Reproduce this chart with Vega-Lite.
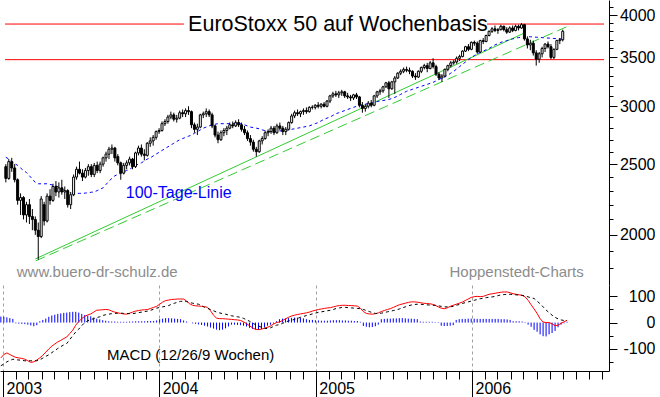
{
"$schema": "https://vega.github.io/schema/vega-lite/v6.json",
"background": "white",
"padding": 0,
"spacing": 0,
"bounds": "flush",
"config": {"view": {"stroke": null}, "axis": {"labelFont": "Liberation Sans", "domainWidth": 1, "tickWidth": 1, "domainColor": "black", "tickColor": "black"}, "text": {"font": "Liberation Sans"}},
"datasets": {
"red": [{"a":"2002-12-25","b":"2004-02-23","p":3888},{"a":"2006-02-12","b":"2006-11-17","p":3888},{"a":"2002-12-25","b":"2006-11-17","p":3475}],
"trendA": [{"d":"2003-03-07","p":1854},{"d":"2006-05-12","p":3780}],
"trendB": [{"d":"2003-03-08","p":1843},{"d":"2006-08-30","p":3876}],
"ttl": [{"d":"2004-03-04","p":3876,"t":"EuroStoxx 50 auf Wochenbasis"}],
"malab": [{"d":"2003-10-08","p":2283,"t":"100-Tage-Linie"}],
"credits": [{"d":"2003-01-22","p":1777,"t":"www.buero-dr-schulz.de"},{"d":"2005-11-15","p":1777,"t":"Hoppenstedt-Charts"}],
"mlab": [{"d":"2003-09-01","v":-125,"t":"MACD (12/26/9 Wochen)"}],
"w": [
{"d":"2002-12-27","o":2480,"h":2500,"l":2360,"c":2390,"ma":2555,"m":-135,"s":-165,"hb":23},
{"d":"2003-01-03","o":2390,"h":2540,"l":2380,"c":2520,"ma":2540,"m":-122,"s":-158,"hb":22},
{"d":"2003-01-10","o":2520,"h":2550,"l":2440,"c":2470,"ma":2520,"m":-116,"s":-150,"hb":20},
{"d":"2003-01-17","o":2470,"h":2500,"l":2360,"c":2380,"ma":2505,"m":-122,"s":-145,"hb":17},
{"d":"2003-01-24","o":2380,"h":2390,"l":2200,"c":2230,"ma":2490,"m":-128,"s":-140,"hb":14},
{"d":"2003-01-31","o":2230,"h":2280,"l":2130,"c":2250,"ma":2470,"m":-133,"s":-142,"hb":-3},
{"d":"2003-02-07","o":2250,"h":2260,"l":2100,"c":2130,"ma":2450,"m":-135,"s":-143,"hb":-4},
{"d":"2003-02-14","o":2130,"h":2220,"l":2080,"c":2200,"ma":2435,"m":-137,"s":-144,"hb":-5},
{"d":"2003-02-21","o":2200,"h":2240,"l":2070,"c":2120,"ma":2410,"m":-140,"s":-146,"hb":-6},
{"d":"2003-02-28","o":2120,"h":2170,"l":2030,"c":2100,"ma":2385,"m":-146,"s":-146,"hb":-8},
{"d":"2003-03-07","o":2100,"h":2120,"l":2000,"c":2030,"ma":2360,"m":-152,"s":-146,"hb":-11},
{"d":"2003-03-14","o":2030,"h":2080,"l":1850,"c":1990,"ma":2350,"m":-150,"s":-146,"hb":-14},
{"d":"2003-03-21","o":1990,"h":2260,"l":1980,"c":2240,"ma":2350,"m":-143,"s":-146,"hb":-10},
{"d":"2003-03-28","o":2200,"h":2220,"l":2060,"c":2090,"ma":2350,"m":-135,"s":-142,"hb":5},
{"d":"2003-04-04","o":2090,"h":2280,"l":2080,"c":2260,"ma":2350,"m":-125,"s":-136,"hb":10},
{"d":"2003-04-11","o":2260,"h":2310,"l":2200,"c":2230,"ma":2345,"m":-113,"s":-129,"hb":15},
{"d":"2003-04-18","o":2230,"h":2350,"l":2220,"c":2330,"ma":2340,"m":-101,"s":-123,"hb":22},
{"d":"2003-04-25","o":2330,"h":2370,"l":2260,"c":2290,"ma":2335,"m":-90,"s":-115,"hb":27},
{"d":"2003-05-02","o":2290,"h":2360,"l":2250,"c":2320,"ma":2325,"m":-82,"s":-107,"hb":30},
{"d":"2003-05-09","o":2320,"h":2380,"l":2270,"c":2290,"ma":2315,"m":-74,"s":-99,"hb":33},
{"d":"2003-05-16","o":2290,"h":2330,"l":2240,"c":2300,"ma":2300,"m":-68,"s":-92,"hb":35},
{"d":"2003-05-23","o":2300,"h":2310,"l":2180,"c":2200,"ma":2290,"m":-61,"s":-85,"hb":37},
{"d":"2003-05-30","o":2200,"h":2290,"l":2170,"c":2270,"ma":2280,"m":-55,"s":-80,"hb":38},
{"d":"2003-06-06","o":2270,"h":2420,"l":2260,"c":2400,"ma":2280,"m":-42,"s":-65,"hb":40},
{"d":"2003-06-13","o":2400,"h":2480,"l":2380,"c":2460,"ma":2280,"m":-29,"s":-50,"hb":41},
{"d":"2003-06-20","o":2460,"h":2520,"l":2420,"c":2430,"ma":2280,"m":-10,"s":-36,"hb":41},
{"d":"2003-06-27","o":2430,"h":2460,"l":2370,"c":2400,"ma":2280,"m":4,"s":-25,"hb":38},
{"d":"2003-07-04","o":2400,"h":2470,"l":2390,"c":2450,"ma":2282,"m":15,"s":-12,"hb":33},
{"d":"2003-07-11","o":2450,"h":2500,"l":2410,"c":2480,"ma":2285,"m":24,"s":0,"hb":29},
{"d":"2003-07-18","o":2480,"h":2500,"l":2400,"c":2420,"ma":2288,"m":29,"s":7,"hb":26},
{"d":"2003-07-25","o":2420,"h":2510,"l":2400,"c":2490,"ma":2290,"m":33,"s":11,"hb":24},
{"d":"2003-08-01","o":2490,"h":2520,"l":2430,"c":2450,"ma":2300,"m":40,"s":15,"hb":19},
{"d":"2003-08-08","o":2450,"h":2520,"l":2430,"c":2500,"ma":2310,"m":47,"s":19,"hb":15},
{"d":"2003-08-15","o":2500,"h":2560,"l":2480,"c":2550,"ma":2320,"m":48,"s":22,"hb":12},
{"d":"2003-08-22","o":2550,"h":2600,"l":2520,"c":2580,"ma":2345,"m":49,"s":27,"hb":9},
{"d":"2003-08-29","o":2580,"h":2640,"l":2540,"c":2620,"ma":2370,"m":50,"s":30,"hb":7},
{"d":"2003-09-05","o":2620,"h":2660,"l":2580,"c":2630,"ma":2390,"m":49,"s":32,"hb":5},
{"d":"2003-09-12","o":2630,"h":2640,"l":2520,"c":2550,"ma":2410,"m":44,"s":34,"hb":4},
{"d":"2003-09-19","o":2560,"h":2580,"l":2490,"c":2510,"ma":2420,"m":40,"s":35,"hb":4},
{"d":"2003-09-26","o":2510,"h":2520,"l":2380,"c":2430,"ma":2430,"m":37,"s":36,"hb":3},
{"d":"2003-10-03","o":2430,"h":2510,"l":2420,"c":2490,"ma":2440,"m":35,"s":36,"hb":3},
{"d":"2003-10-10","o":2490,"h":2530,"l":2460,"c":2510,"ma":2450,"m":33,"s":35,"hb":3},
{"d":"2003-10-17","o":2510,"h":2560,"l":2490,"c":2540,"ma":2460,"m":32,"s":35,"hb":3},
{"d":"2003-10-24","o":2540,"h":2550,"l":2460,"c":2480,"ma":2475,"m":36,"s":34,"hb":4},
{"d":"2003-10-31","o":2480,"h":2600,"l":2470,"c":2590,"ma":2490,"m":40,"s":34,"hb":4},
{"d":"2003-11-07","o":2590,"h":2650,"l":2570,"c":2630,"ma":2500,"m":44,"s":36,"hb":5},
{"d":"2003-11-14","o":2630,"h":2660,"l":2560,"c":2580,"ma":2510,"m":46,"s":38,"hb":5},
{"d":"2003-11-21","o":2580,"h":2620,"l":2530,"c":2570,"ma":2525,"m":48,"s":40,"hb":5},
{"d":"2003-11-28","o":2570,"h":2680,"l":2560,"c":2670,"ma":2540,"m":49,"s":42,"hb":5},
{"d":"2003-12-05","o":2670,"h":2720,"l":2640,"c":2690,"ma":2550,"m":50,"s":44,"hb":6},
{"d":"2003-12-12","o":2690,"h":2740,"l":2650,"c":2720,"ma":2565,"m":54,"s":47,"hb":6},
{"d":"2003-12-19","o":2720,"h":2780,"l":2700,"c":2770,"ma":2580,"m":58,"s":51,"hb":6},
{"d":"2003-12-26","o":2770,"h":2800,"l":2750,"c":2780,"ma":2595,"m":62,"s":55,"hb":8},
{"d":"2004-01-02","o":2780,"h":2860,"l":2770,"c":2840,"ma":2610,"m":70,"s":58,"hb":13},
{"d":"2004-01-09","o":2840,"h":2880,"l":2820,"c":2860,"ma":2625,"m":78,"s":60,"hb":15},
{"d":"2004-01-16","o":2860,"h":2920,"l":2840,"c":2900,"ma":2640,"m":84,"s":62,"hb":17},
{"d":"2004-01-23","o":2900,"h":2950,"l":2880,"c":2920,"ma":2655,"m":86,"s":65,"hb":17},
{"d":"2004-01-30","o":2920,"h":2940,"l":2860,"c":2880,"ma":2670,"m":88,"s":70,"hb":16},
{"d":"2004-02-06","o":2880,"h":2920,"l":2850,"c":2890,"ma":2685,"m":89,"s":74,"hb":15},
{"d":"2004-02-13","o":2890,"h":2960,"l":2880,"c":2940,"ma":2700,"m":90,"s":78,"hb":14},
{"d":"2004-02-20","o":2940,"h":2970,"l":2900,"c":2930,"ma":2710,"m":90,"s":81,"hb":13},
{"d":"2004-02-27","o":2930,"h":2980,"l":2900,"c":2960,"ma":2720,"m":90,"s":82,"hb":8},
{"d":"2004-03-05","o":2960,"h":3000,"l":2920,"c":2950,"ma":2730,"m":82,"s":80,"hb":4},
{"d":"2004-03-12","o":2950,"h":2960,"l":2800,"c":2830,"ma":2740,"m":72,"s":77,"hb":0},
{"d":"2004-03-19","o":2830,"h":2850,"l":2760,"c":2790,"ma":2755,"m":66,"s":74,"hb":-3},
{"d":"2004-03-26","o":2790,"h":2840,"l":2740,"c":2810,"ma":2770,"m":64,"s":72,"hb":-5},
{"d":"2004-04-02","o":2810,"h":2930,"l":2800,"c":2920,"ma":2785,"m":63,"s":70,"hb":-7},
{"d":"2004-04-09","o":2920,"h":2950,"l":2890,"c":2930,"ma":2800,"m":62,"s":65,"hb":-9},
{"d":"2004-04-16","o":2930,"h":2980,"l":2900,"c":2950,"ma":2810,"m":61,"s":58,"hb":-12},
{"d":"2004-04-23","o":2950,"h":2970,"l":2900,"c":2920,"ma":2820,"m":58,"s":54,"hb":-15},
{"d":"2004-04-30","o":2920,"h":2940,"l":2800,"c":2820,"ma":2830,"m":45,"s":50,"hb":-19},
{"d":"2004-05-07","o":2820,"h":2830,"l":2720,"c":2740,"ma":2835,"m":28,"s":45,"hb":-23},
{"d":"2004-05-14","o":2740,"h":2770,"l":2670,"c":2700,"ma":2840,"m":17,"s":40,"hb":-27},
{"d":"2004-05-21","o":2700,"h":2780,"l":2690,"c":2760,"ma":2840,"m":15,"s":37,"hb":-29},
{"d":"2004-05-28","o":2760,"h":2800,"l":2730,"c":2780,"ma":2840,"m":15,"s":34,"hb":-27},
{"d":"2004-06-04","o":2780,"h":2820,"l":2740,"c":2800,"ma":2840,"m":14,"s":32,"hb":-22},
{"d":"2004-06-11","o":2800,"h":2850,"l":2790,"c":2830,"ma":2840,"m":13,"s":29,"hb":-15},
{"d":"2004-06-18","o":2830,"h":2860,"l":2800,"c":2820,"ma":2840,"m":12,"s":26,"hb":-8},
{"d":"2004-06-25","o":2820,"h":2870,"l":2810,"c":2850,"ma":2840,"m":11,"s":24,"hb":-8},
{"d":"2004-07-02","o":2850,"h":2880,"l":2810,"c":2830,"ma":2840,"m":10,"s":22,"hb":-9},
{"d":"2004-07-09","o":2830,"h":2850,"l":2770,"c":2790,"ma":2838,"m":8,"s":20,"hb":-10},
{"d":"2004-07-16","o":2790,"h":2820,"l":2740,"c":2760,"ma":2830,"m":3,"s":16,"hb":-12},
{"d":"2004-07-23","o":2760,"h":2780,"l":2690,"c":2710,"ma":2820,"m":-4,"s":11,"hb":-15},
{"d":"2004-07-30","o":2710,"h":2740,"l":2650,"c":2680,"ma":2810,"m":-12,"s":5,"hb":-20},
{"d":"2004-08-06","o":2680,"h":2700,"l":2600,"c":2620,"ma":2805,"m":-20,"s":-2,"hb":-24},
{"d":"2004-08-13","o":2620,"h":2640,"l":2560,"c":2600,"ma":2800,"m":-26,"s":-8,"hb":-27},
{"d":"2004-08-20","o":2600,"h":2700,"l":2590,"c":2690,"ma":2795,"m":-27,"s":-13,"hb":-28},
{"d":"2004-08-27","o":2690,"h":2730,"l":2660,"c":2710,"ma":2785,"m":-25,"s":-18,"hb":-25},
{"d":"2004-09-03","o":2710,"h":2780,"l":2700,"c":2760,"ma":2778,"m":-21,"s":-22,"hb":-18},
{"d":"2004-09-10","o":2760,"h":2790,"l":2730,"c":2770,"ma":2772,"m":-18,"s":-23,"hb":-12},
{"d":"2004-09-17","o":2770,"h":2820,"l":2750,"c":2800,"ma":2770,"m":-13,"s":-20,"hb":-8},
{"d":"2004-09-24","o":2800,"h":2820,"l":2740,"c":2760,"ma":2770,"m":-6,"s":-15,"hb":-4},
{"d":"2004-10-01","o":2760,"h":2840,"l":2750,"c":2820,"ma":2772,"m":0,"s":-10,"hb":5},
{"d":"2004-10-08","o":2820,"h":2850,"l":2780,"c":2800,"ma":2775,"m":2,"s":-8,"hb":13},
{"d":"2004-10-15","o":2800,"h":2820,"l":2740,"c":2770,"ma":2778,"m":8,"s":-3,"hb":15},
{"d":"2004-10-22","o":2770,"h":2810,"l":2740,"c":2790,"ma":2780,"m":14,"s":2,"hb":16},
{"d":"2004-10-29","o":2790,"h":2860,"l":2780,"c":2850,"ma":2785,"m":20,"s":6,"hb":17},
{"d":"2004-11-05","o":2850,"h":2930,"l":2840,"c":2910,"ma":2790,"m":25,"s":9,"hb":18},
{"d":"2004-11-12","o":2910,"h":2960,"l":2890,"c":2940,"ma":2795,"m":28,"s":12,"hb":19},
{"d":"2004-11-19","o":2940,"h":2970,"l":2910,"c":2930,"ma":2800,"m":31,"s":16,"hb":19},
{"d":"2004-11-26","o":2930,"h":2960,"l":2900,"c":2950,"ma":2805,"m":33,"s":20,"hb":18},
{"d":"2004-12-03","o":2950,"h":2980,"l":2920,"c":2960,"ma":2810,"m":35,"s":23,"hb":16},
{"d":"2004-12-10","o":2960,"h":2990,"l":2930,"c":2950,"ma":2815,"m":37,"s":27,"hb":13},
{"d":"2004-12-17","o":2950,"h":3000,"l":2940,"c":2990,"ma":2820,"m":40,"s":30,"hb":10},
{"d":"2004-12-24","o":2990,"h":3010,"l":2970,"c":2990,"ma":2830,"m":44,"s":33,"hb":10},
{"d":"2004-12-31","o":2990,"h":3020,"l":2970,"c":3010,"ma":2840,"m":47,"s":36,"hb":9},
{"d":"2005-01-07","o":3010,"h":3040,"l":2980,"c":3000,"ma":2850,"m":50,"s":39,"hb":8},
{"d":"2005-01-14","o":3000,"h":3030,"l":2980,"c":3020,"ma":2865,"m":52,"s":41,"hb":7},
{"d":"2005-01-21","o":3020,"h":3040,"l":2990,"c":3000,"ma":2880,"m":54,"s":43,"hb":7},
{"d":"2005-01-28","o":3000,"h":3060,"l":2990,"c":3050,"ma":2890,"m":56,"s":45,"hb":7},
{"d":"2005-02-04","o":3050,"h":3110,"l":3030,"c":3100,"ma":2900,"m":57,"s":47,"hb":8},
{"d":"2005-02-11","o":3100,"h":3140,"l":3080,"c":3120,"ma":2915,"m":60,"s":50,"hb":9},
{"d":"2005-02-18","o":3120,"h":3150,"l":3090,"c":3110,"ma":2930,"m":63,"s":54,"hb":9},
{"d":"2005-02-25","o":3110,"h":3150,"l":3080,"c":3130,"ma":2940,"m":65,"s":56,"hb":9},
{"d":"2005-03-04","o":3130,"h":3160,"l":3100,"c":3140,"ma":2950,"m":66,"s":58,"hb":8},
{"d":"2005-03-11","o":3140,"h":3150,"l":3080,"c":3100,"ma":2960,"m":66,"s":58,"hb":8},
{"d":"2005-03-18","o":3100,"h":3130,"l":3070,"c":3090,"ma":2970,"m":65,"s":57,"hb":7},
{"d":"2005-03-25","o":3090,"h":3110,"l":3050,"c":3080,"ma":2980,"m":65,"s":56,"hb":7},
{"d":"2005-04-01","o":3080,"h":3120,"l":3060,"c":3110,"ma":2990,"m":64,"s":55,"hb":6},
{"d":"2005-04-08","o":3110,"h":3130,"l":3070,"c":3090,"ma":3000,"m":63,"s":54,"hb":6},
{"d":"2005-04-15","o":3090,"h":3100,"l":2990,"c":3010,"ma":3010,"m":55,"s":53,"hb":3},
{"d":"2005-04-22","o":3010,"h":3040,"l":2940,"c":2980,"ma":3015,"m":42,"s":50,"hb":-13},
{"d":"2005-04-29","o":2980,"h":3020,"l":2950,"c":3000,"ma":3020,"m":35,"s":46,"hb":-16},
{"d":"2005-05-06","o":3000,"h":3050,"l":2980,"c":3030,"ma":3025,"m":33,"s":42,"hb":-18},
{"d":"2005-05-13","o":3030,"h":3060,"l":2990,"c":3010,"ma":3030,"m":32,"s":38,"hb":-17},
{"d":"2005-05-20","o":3010,"h":3110,"l":3000,"c":3100,"ma":3035,"m":34,"s":35,"hb":-14},
{"d":"2005-05-27","o":3100,"h":3150,"l":3080,"c":3140,"ma":3045,"m":37,"s":34,"hb":-8},
{"d":"2005-06-03","o":3140,"h":3170,"l":3110,"c":3150,"ma":3050,"m":42,"s":36,"hb":13},
{"d":"2005-06-10","o":3150,"h":3200,"l":3130,"c":3190,"ma":3055,"m":46,"s":38,"hb":14},
{"d":"2005-06-17","o":3190,"h":3240,"l":3180,"c":3230,"ma":3060,"m":50,"s":41,"hb":15},
{"d":"2005-06-24","o":3230,"h":3250,"l":3080,"c":3170,"ma":3065,"m":53,"s":43,"hb":15},
{"d":"2005-07-01","o":3170,"h":3250,"l":3160,"c":3240,"ma":3075,"m":58,"s":46,"hb":16},
{"d":"2005-07-08","o":3240,"h":3300,"l":3120,"c":3280,"ma":3085,"m":63,"s":48,"hb":16},
{"d":"2005-07-15","o":3280,"h":3340,"l":3270,"c":3330,"ma":3100,"m":68,"s":52,"hb":17},
{"d":"2005-07-22","o":3330,"h":3370,"l":3310,"c":3350,"ma":3115,"m":71,"s":56,"hb":17},
{"d":"2005-07-29","o":3350,"h":3390,"l":3330,"c":3370,"ma":3130,"m":74,"s":60,"hb":16},
{"d":"2005-08-05","o":3370,"h":3400,"l":3340,"c":3360,"ma":3145,"m":77,"s":64,"hb":15},
{"d":"2005-08-12","o":3360,"h":3390,"l":3320,"c":3350,"ma":3155,"m":79,"s":67,"hb":15},
{"d":"2005-08-19","o":3350,"h":3360,"l":3280,"c":3300,"ma":3165,"m":79,"s":69,"hb":14},
{"d":"2005-08-26","o":3300,"h":3330,"l":3260,"c":3290,"ma":3175,"m":78,"s":70,"hb":13},
{"d":"2005-09-02","o":3290,"h":3360,"l":3280,"c":3350,"ma":3185,"m":76,"s":70,"hb":4},
{"d":"2005-09-09","o":3350,"h":3400,"l":3330,"c":3390,"ma":3195,"m":74,"s":69,"hb":3},
{"d":"2005-09-16","o":3390,"h":3430,"l":3370,"c":3410,"ma":3205,"m":73,"s":68,"hb":3},
{"d":"2005-09-23","o":3410,"h":3440,"l":3340,"c":3380,"ma":3215,"m":72,"s":67,"hb":3},
{"d":"2005-09-30","o":3380,"h":3460,"l":3370,"c":3440,"ma":3225,"m":70,"s":66,"hb":3},
{"d":"2005-10-07","o":3440,"h":3490,"l":3380,"c":3400,"ma":3235,"m":66,"s":66,"hb":2},
{"d":"2005-10-14","o":3400,"h":3420,"l":3300,"c":3320,"ma":3250,"m":60,"s":64,"hb":2},
{"d":"2005-10-21","o":3320,"h":3340,"l":3260,"c":3280,"ma":3265,"m":55,"s":62,"hb":-12},
{"d":"2005-10-28","o":3280,"h":3320,"l":3240,"c":3300,"ma":3280,"m":53,"s":60,"hb":-13},
{"d":"2005-11-04","o":3300,"h":3380,"l":3290,"c":3370,"ma":3290,"m":56,"s":60,"hb":-13},
{"d":"2005-11-11","o":3370,"h":3420,"l":3350,"c":3410,"ma":3310,"m":62,"s":60,"hb":-12},
{"d":"2005-11-18","o":3410,"h":3460,"l":3390,"c":3440,"ma":3330,"m":66,"s":62,"hb":-10},
{"d":"2005-11-25","o":3440,"h":3470,"l":3420,"c":3450,"ma":3350,"m":70,"s":66,"hb":10},
{"d":"2005-12-02","o":3450,"h":3510,"l":3430,"c":3490,"ma":3375,"m":74,"s":69,"hb":13},
{"d":"2005-12-09","o":3490,"h":3530,"l":3460,"c":3510,"ma":3400,"m":78,"s":73,"hb":14},
{"d":"2005-12-16","o":3510,"h":3580,"l":3500,"c":3570,"ma":3425,"m":84,"s":76,"hb":14},
{"d":"2005-12-23","o":3570,"h":3630,"l":3560,"c":3620,"ma":3450,"m":90,"s":79,"hb":15},
{"d":"2005-12-30","o":3620,"h":3650,"l":3570,"c":3590,"ma":3475,"m":96,"s":82,"hb":15},
{"d":"2006-01-06","o":3590,"h":3680,"l":3580,"c":3670,"ma":3500,"m":99,"s":85,"hb":15},
{"d":"2006-01-13","o":3670,"h":3690,"l":3630,"c":3660,"ma":3520,"m":100,"s":88,"hb":14},
{"d":"2006-01-20","o":3660,"h":3680,"l":3540,"c":3560,"ma":3540,"m":99,"s":91,"hb":14},
{"d":"2006-01-27","o":3560,"h":3700,"l":3550,"c":3690,"ma":3555,"m":100,"s":93,"hb":14},
{"d":"2006-02-03","o":3690,"h":3720,"l":3650,"c":3680,"ma":3570,"m":104,"s":95,"hb":14},
{"d":"2006-02-10","o":3680,"h":3760,"l":3670,"c":3750,"ma":3585,"m":108,"s":97,"hb":14},
{"d":"2006-02-17","o":3750,"h":3810,"l":3740,"c":3800,"ma":3600,"m":110,"s":98,"hb":14},
{"d":"2006-02-24","o":3800,"h":3850,"l":3780,"c":3830,"ma":3620,"m":112,"s":100,"hb":14},
{"d":"2006-03-03","o":3830,"h":3870,"l":3790,"c":3810,"ma":3640,"m":114,"s":103,"hb":14},
{"d":"2006-03-10","o":3810,"h":3840,"l":3770,"c":3820,"ma":3655,"m":116,"s":106,"hb":13},
{"d":"2006-03-17","o":3820,"h":3880,"l":3810,"c":3860,"ma":3670,"m":117,"s":107,"hb":13},
{"d":"2006-03-24","o":3860,"h":3870,"l":3800,"c":3820,"ma":3680,"m":117,"s":108,"hb":12},
{"d":"2006-03-31","o":3820,"h":3850,"l":3770,"c":3790,"ma":3690,"m":114,"s":108,"hb":10},
{"d":"2006-04-07","o":3790,"h":3860,"l":3780,"c":3840,"ma":3700,"m":110,"s":107,"hb":5},
{"d":"2006-04-14","o":3840,"h":3870,"l":3790,"c":3810,"ma":3710,"m":108,"s":106,"hb":5},
{"d":"2006-04-21","o":3810,"h":3880,"l":3800,"c":3860,"ma":3720,"m":106,"s":105,"hb":5},
{"d":"2006-04-28","o":3860,"h":3880,"l":3810,"c":3840,"ma":3725,"m":104,"s":104,"hb":4},
{"d":"2006-05-05","o":3840,"h":3900,"l":3830,"c":3880,"ma":3730,"m":98,"s":102,"hb":2},
{"d":"2006-05-12","o":3880,"h":3890,"l":3690,"c":3710,"ma":3735,"m":85,"s":98,"hb":-8},
{"d":"2006-05-19","o":3710,"h":3740,"l":3600,"c":3640,"ma":3735,"m":68,"s":95,"hb":-16},
{"d":"2006-05-26","o":3640,"h":3700,"l":3580,"c":3660,"ma":3735,"m":52,"s":92,"hb":-28},
{"d":"2006-06-02","o":3660,"h":3690,"l":3520,"c":3550,"ma":3733,"m":35,"s":82,"hb":-35},
{"d":"2006-06-09","o":3550,"h":3580,"l":3410,"c":3480,"ma":3730,"m":15,"s":72,"hb":-45},
{"d":"2006-06-16","o":3480,"h":3560,"l":3440,"c":3540,"ma":3728,"m":2,"s":60,"hb":-52},
{"d":"2006-06-23","o":3540,"h":3620,"l":3500,"c":3600,"ma":3725,"m":0,"s":48,"hb":-53},
{"d":"2006-06-30","o":3600,"h":3660,"l":3560,"c":3650,"ma":3722,"m":0,"s":38,"hb":-45},
{"d":"2006-07-07","o":3650,"h":3680,"l":3600,"c":3620,"ma":3720,"m":-5,"s":28,"hb":-40},
{"d":"2006-07-14","o":3620,"h":3650,"l":3480,"c":3500,"ma":3718,"m":-12,"s":20,"hb":-32},
{"d":"2006-07-21","o":3500,"h":3600,"l":3480,"c":3590,"ma":3715,"m":-10,"s":14,"hb":-18},
{"d":"2006-07-28","o":3590,"h":3700,"l":3580,"c":3690,"ma":3712,"m":-3,"s":10,"hb":-8},
{"d":"2006-08-04","o":3690,"h":3720,"l":3650,"c":3700,"ma":3710,"m":3,"s":8,"hb":-3},
{"d":"2006-08-11","o":3700,"h":3820,"l":3680,"c":3800,"ma":3708,"m":9,"s":6,"hb":3}
]
},
"vconcat": [
{
"width": 609, "height": 285,
"resolve": {"axis": {"y": "independent"}},
"layer": [
{"data": {"name": "red"}, "mark": {"type": "rule", "color": "#ff0000", "strokeWidth": 1, "clip": true},
 "encoding": {"x": {"field": "a", "type": "temporal", "scale": {"type": "utc", "domain": [{"year": 2002, "month": 12, "date": 25, "utc": true}, {"year": 2006, "month": 11, "date": 17, "utc": true}]}, "axis": null},
  "x2": {"field": "b"},
  "y": {"field": "p", "type": "quantitative", "scale": {"type": "log", "domain": [1708, 4194], "nice": false}, "axis": null}}},
{"data": {"name": "trendA"}, "mark": {"type": "line", "color": "#33cc33", "strokeWidth": 1, "clip": true},
 "encoding": {"x": {"field": "d", "type": "temporal", "scale": {"type": "utc", "domain": [{"year": 2002, "month": 12, "date": 25, "utc": true}, {"year": 2006, "month": 11, "date": 17, "utc": true}]}, "axis": null},
  "y": {"field": "p", "type": "quantitative", "scale": {"type": "log", "domain": [1708, 4194], "nice": false}, "axis": null}}},
{"data": {"name": "trendB"}, "mark": {"type": "line", "color": "#33cc33", "strokeWidth": 1, "strokeDash": [10, 5], "clip": true},
 "encoding": {"x": {"field": "d", "type": "temporal", "scale": {"type": "utc", "domain": [{"year": 2002, "month": 12, "date": 25, "utc": true}, {"year": 2006, "month": 11, "date": 17, "utc": true}]}, "axis": null},
  "y": {"field": "p", "type": "quantitative", "scale": {"type": "log", "domain": [1708, 4194], "nice": false}, "axis": null}}},
{"data": {"name": "w"}, "mark": {"type": "line", "color": "#0000ff", "strokeWidth": 1, "strokeDash": [3, 3], "clip": true},
 "encoding": {"x": {"field": "d", "type": "temporal", "scale": {"type": "utc", "domain": [{"year": 2002, "month": 12, "date": 25, "utc": true}, {"year": 2006, "month": 11, "date": 17, "utc": true}]}, "axis": null},
  "y": {"field": "ma", "type": "quantitative", "scale": {"type": "log", "domain": [1708, 4194], "nice": false}, "axis": null}}},
{"data": {"name": "w"}, "mark": {"type": "rule", "color": "black", "strokeWidth": 1, "clip": true},
 "encoding": {"x": {"field": "d", "type": "temporal", "scale": {"type": "utc", "domain": [{"year": 2002, "month": 12, "date": 25, "utc": true}, {"year": 2006, "month": 11, "date": 17, "utc": true}]},
   "axis": {"orient": "bottom", "tickCount": {"interval": "year", "step": 1}, "grid": true, "gridDash": [3, 3], "gridColor": "#a0a0a0", "gridWidth": 1, "labels": false, "ticks": false, "domain": true, "domainColor": "black", "title": null}},
  "y": {"field": "l", "type": "quantitative", "scale": {"type": "log", "domain": [1708, 4194], "nice": false},
   "axis": {"orient": "right", "values": [1800,1900,2000,2100,2200,2300,2400,2500,2600,2700,2800,2900,3000,3100,3200,3300,3400,3500,3600,3700,3800,3900,4000,4100], "tickSize": 4, "labels": false, "domain": true, "domainColor": "black", "tickColor": "black", "grid": false, "title": null}},
  "y2": {"field": "h"}}},
{"data": {"name": "w"}, "mark": {"type": "bar", "size": 2, "stroke": "black", "strokeWidth": 1, "clip": true},
 "encoding": {"x": {"field": "d", "type": "temporal", "scale": {"type": "utc", "domain": [{"year": 2002, "month": 12, "date": 25, "utc": true}, {"year": 2006, "month": 11, "date": 17, "utc": true}]}, "axis": null},
  "y": {"field": "o", "type": "quantitative", "scale": {"type": "log", "domain": [1708, 4194], "nice": false},
   "axis": {"orient": "right", "values": [2000, 2500, 3000, 3500, 4000], "tickSize": 8, "tickColor": "black", "domain": false, "grid": false, "title": null, "format": "d", "labelAlign": "right", "labelBaseline": "middle", "labelPadding": 38, "labelFontSize": 16, "labelFont": "Liberation Sans", "labelColor": "black"}},
  "y2": {"field": "c"},
  "fill": {"condition": {"test": "datum.c >= datum.o", "value": "white"}, "value": "black"}}},
{"data": {"name": "ttl"}, "mark": {"type": "text", "align": "left", "baseline": "middle", "fontSize": 21.5, "font": "Liberation Sans", "color": "black"},
 "encoding": {"x": {"field": "d", "type": "temporal", "scale": {"type": "utc", "domain": [{"year": 2002, "month": 12, "date": 25, "utc": true}, {"year": 2006, "month": 11, "date": 17, "utc": true}]}, "axis": null},
  "y": {"field": "p", "type": "quantitative", "scale": {"type": "log", "domain": [1708, 4194], "nice": false}, "axis": null},
  "text": {"field": "t"}}},
{"data": {"name": "malab"}, "mark": {"type": "text", "align": "left", "baseline": "middle", "fontSize": 16, "font": "Liberation Sans", "color": "#0000ff"},
 "encoding": {"x": {"field": "d", "type": "temporal", "scale": {"type": "utc", "domain": [{"year": 2002, "month": 12, "date": 25, "utc": true}, {"year": 2006, "month": 11, "date": 17, "utc": true}]}, "axis": null},
  "y": {"field": "p", "type": "quantitative", "scale": {"type": "log", "domain": [1708, 4194], "nice": false}, "axis": null},
  "text": {"field": "t"}}},
{"data": {"name": "credits"}, "mark": {"type": "text", "align": "left", "baseline": "middle", "fontSize": 15, "font": "Liberation Sans", "color": "#8c8c8c"},
 "encoding": {"x": {"field": "d", "type": "temporal", "scale": {"type": "utc", "domain": [{"year": 2002, "month": 12, "date": 25, "utc": true}, {"year": 2006, "month": 11, "date": 17, "utc": true}]}, "axis": null},
  "y": {"field": "p", "type": "quantitative", "scale": {"type": "log", "domain": [1708, 4194], "nice": false}, "axis": null},
  "text": {"field": "t"}}}
]
},
{
"width": 609, "height": 86,
"resolve": {"axis": {"x": "independent", "y": "independent"}},
"layer": [
{"data": {"name": "w"}, "mark": {"type": "rule", "color": "#0000ff", "strokeWidth": 1, "clip": true},
 "encoding": {"x": {"field": "d", "type": "temporal", "scale": {"type": "utc", "domain": [{"year": 2002, "month": 12, "date": 25, "utc": true}, {"year": 2006, "month": 11, "date": 17, "utc": true}]},
   "axis": {"orient": "bottom", "tickCount": {"interval": "month", "step": 1}, "tickSize": 8, "labels": false, "domain": true, "domainColor": "black", "tickColor": "black", "grid": false, "title": null}},
  "y": {"field": "hb", "type": "quantitative", "scale": {"domain": [-185, 143.5], "nice": false, "zero": false},
   "axis": {"orient": "right", "values": [-150, -100, -50, 0, 50, 100], "tickSize": 4, "labels": false, "domain": true, "domainColor": "black", "tickColor": "black", "grid": false, "title": null}},
  "y2": {"datum": 0}}},
{"data": {"name": "w"}, "mark": {"type": "line", "color": "#ff0000", "strokeWidth": 1, "clip": true},
 "encoding": {"x": {"field": "d", "type": "temporal", "scale": {"type": "utc", "domain": [{"year": 2002, "month": 12, "date": 25, "utc": true}, {"year": 2006, "month": 11, "date": 17, "utc": true}]},
   "axis": {"orient": "bottom", "tickCount": {"interval": "year", "step": 1}, "tickSize": 26, "tickColor": "black", "domain": false, "grid": true, "gridDash": [3, 3], "gridColor": "#a0a0a0", "format": "%Y", "labelAlign": "left", "labelBaseline": "top", "labelPadding": -17, "labelOffset": 3, "labelFontSize": 16, "labelFont": "Liberation Sans", "labelColor": "black", "labelFlush": false, "labelOverlap": false, "labelBound": false, "title": null}},
  "y": {"field": "m", "type": "quantitative", "scale": {"domain": [-185, 143.5], "nice": false, "zero": false},
   "axis": {"orient": "right", "values": [-100, 0, 100], "tickSize": 8, "tickColor": "black", "domain": false, "grid": false, "title": null, "labelExpr": "datum.value < 0 ? '-' + (-datum.value) : '' + datum.value", "labelAlign": "right", "labelBaseline": "middle", "labelPadding": 38, "labelFontSize": 16, "labelFont": "Liberation Sans", "labelColor": "black"}}}},
{"data": {"name": "w"}, "mark": {"type": "line", "color": "black", "strokeWidth": 1, "strokeDash": [3, 3], "clip": true},
 "encoding": {"x": {"field": "d", "type": "temporal", "scale": {"type": "utc", "domain": [{"year": 2002, "month": 12, "date": 25, "utc": true}, {"year": 2006, "month": 11, "date": 17, "utc": true}]}, "axis": null},
  "y": {"field": "s", "type": "quantitative", "scale": {"domain": [-185, 143.5], "nice": false, "zero": false}, "axis": null}}},
{"data": {"name": "mlab"}, "mark": {"type": "text", "align": "left", "baseline": "middle", "fontSize": 15, "font": "Liberation Sans", "color": "black"},
 "encoding": {"x": {"field": "d", "type": "temporal", "scale": {"type": "utc", "domain": [{"year": 2002, "month": 12, "date": 25, "utc": true}, {"year": 2006, "month": 11, "date": 17, "utc": true}]}, "axis": null},
  "y": {"field": "v", "type": "quantitative", "scale": {"domain": [-185, 143.5], "nice": false, "zero": false}, "axis": null},
  "text": {"field": "t"}}}
]
}
]
}
